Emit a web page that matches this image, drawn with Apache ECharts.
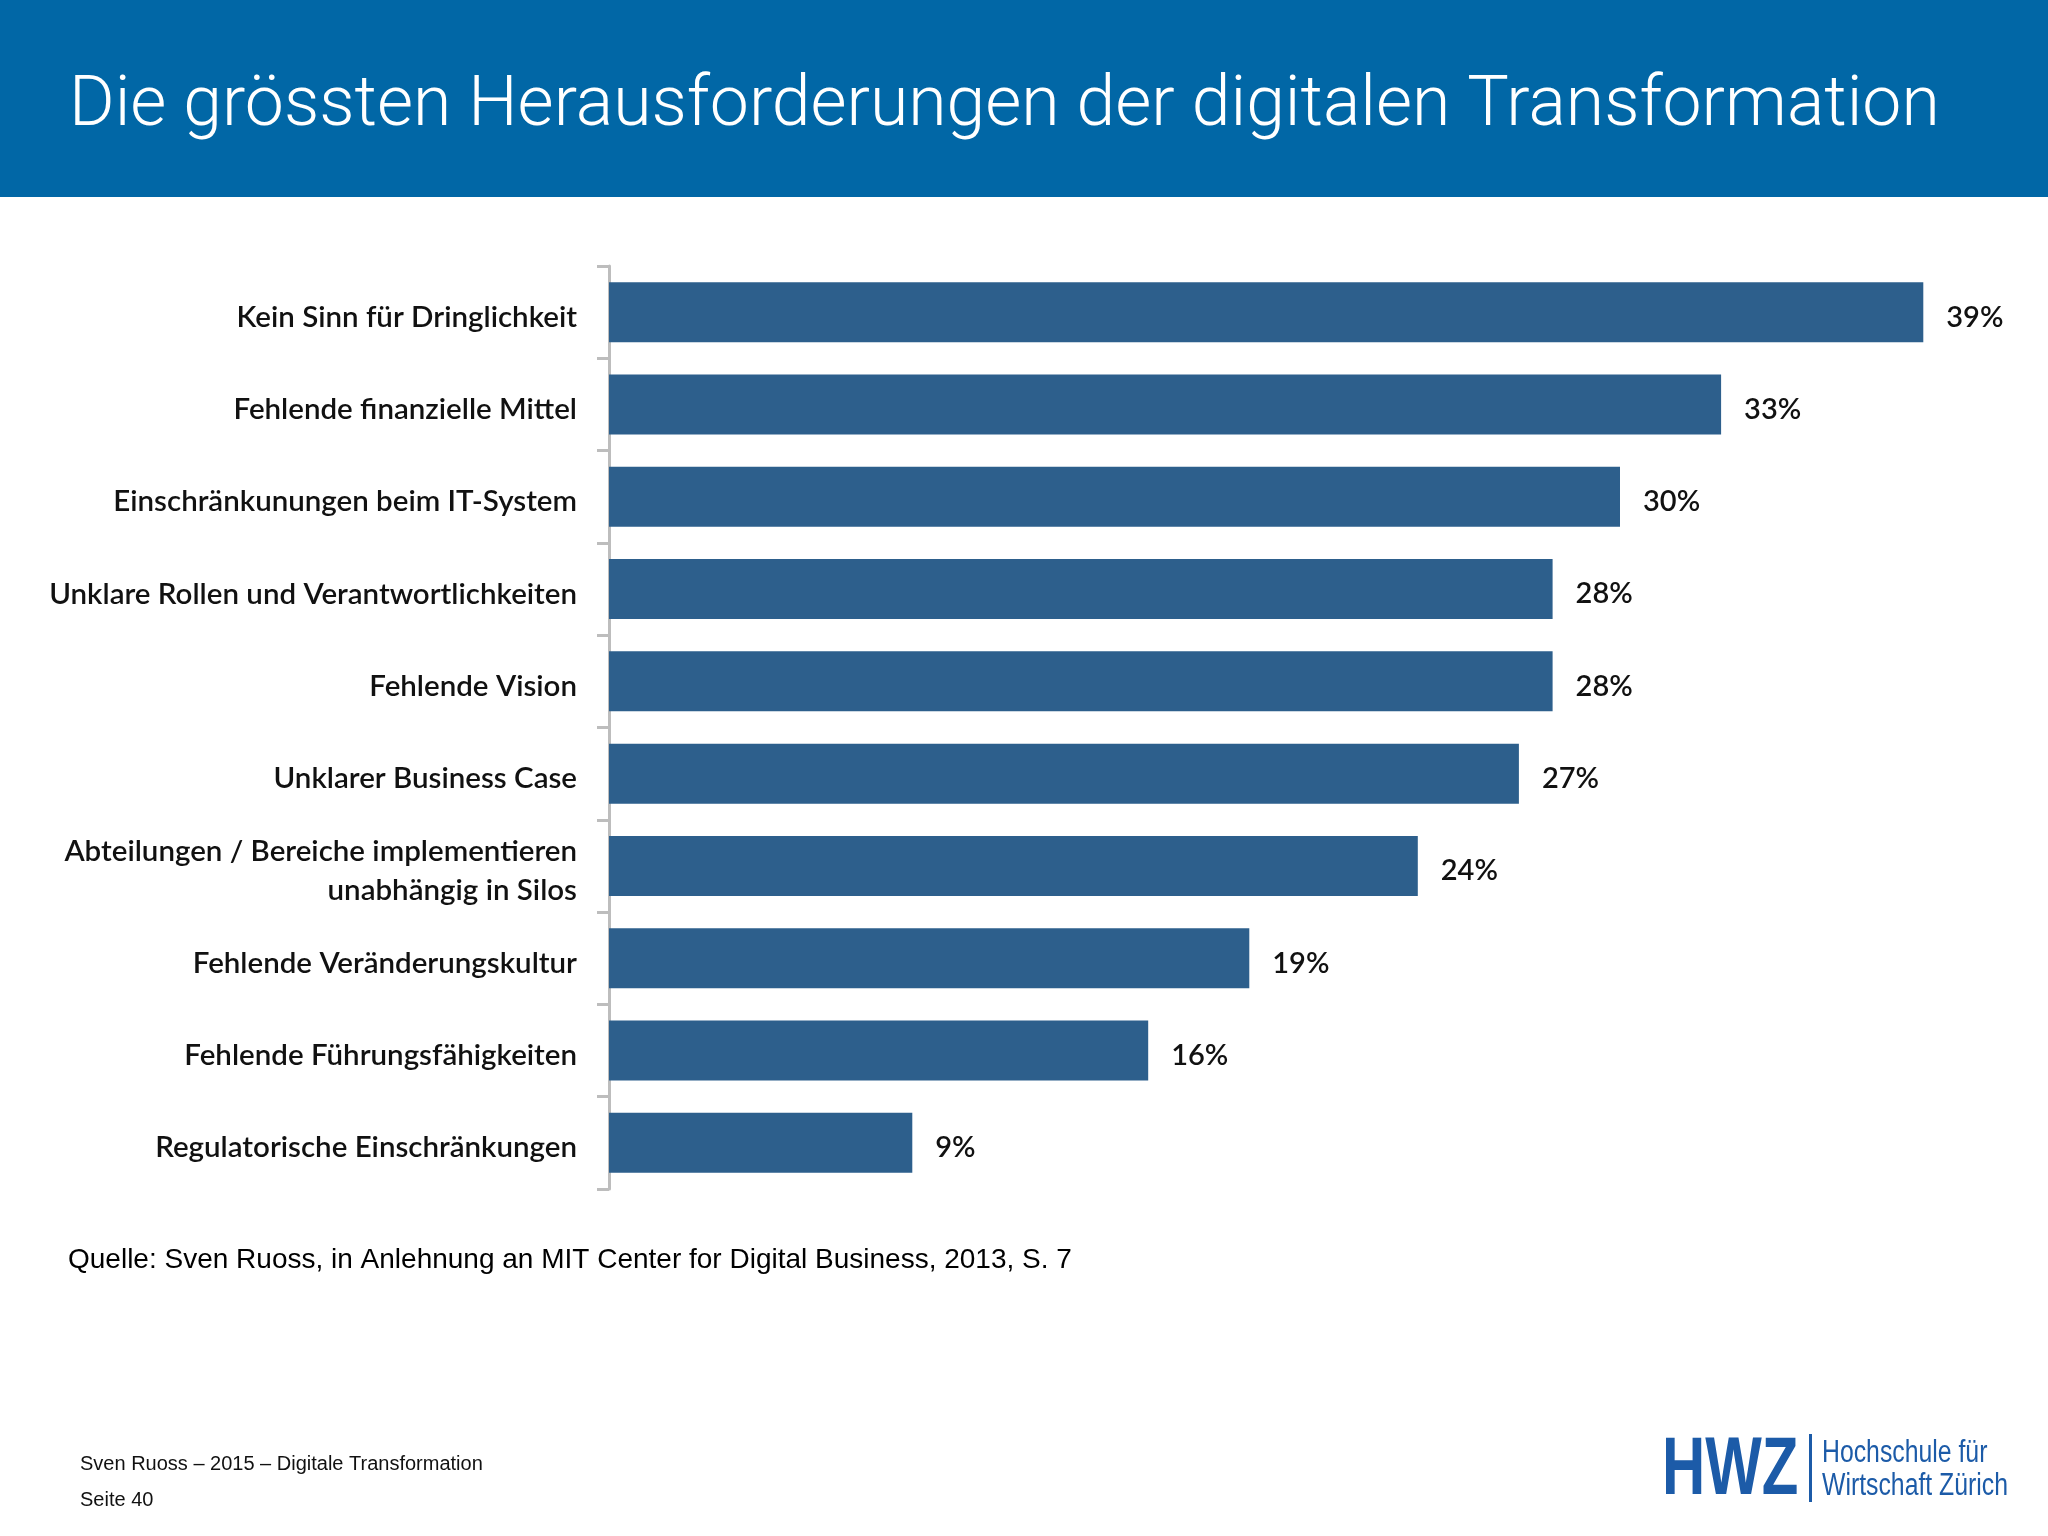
<!DOCTYPE html>
<html>
<head>
<meta charset="utf-8">
<script src="https://cdn.jsdelivr.net/npm/echarts@6/dist/echarts.min.js"></script>
<style>
html,body{margin:0;padding:0;background:#fff;}
#chart{width:2048px;height:1536px;}
</style>
</head>
<body>
<div id="chart"></div>
<script>
const titleText = 'Die grössten Herausforderungen der digitalen Transformation';
const categories = [
  'Kein Sinn für Dringlichkeit',
  'Fehlende finanzielle Mittel',
  'Einschränkunungen beim IT-System',
  'Unklare Rollen und Verantwortlichkeiten',
  'Fehlende Vision',
  'Unklarer Business Case',
  'Abteilungen / Bereiche implementieren\nunabhängig in Silos',
  'Fehlende Veränderungskultur',
  'Fehlende Führungsfähigkeiten',
  'Regulatorische Einschränkungen'
];
const values = [39, 33, 30, 28, 28, 27, 24, 19, 16, 9];
const sourceText = 'Quelle: Sven Ruoss, in Anlehnung an MIT Center for Digital Business, 2013, S. 7';
const footerLine1 = 'Sven Ruoss – 2015 – Digitale Transformation';
const footerLine2 = 'Seite 40';
const logoMain = 'HWZ';
const logoLine1 = 'Hochschule für';
const logoLine2 = 'Wirtschaft Zürich';

const chart = echarts.init(document.getElementById('chart'), null, {renderer: 'canvas'});
const labelFont = 'Lato, "Open Sans", sans-serif';
const logoColor = '#1c5ba8';
chart.setOption({
  backgroundColor: '#ffffff',
  animation: false,
  grid: {left: 609, top: 266, width: 1348, height: 923, containLabel: false, outerBoundsMode: 'none'},
  xAxis: {type: 'value', min: 0, max: 40, show: false, splitLine: {show: false}},
  yAxis: {
    type: 'category',
    data: categories,
    inverse: true,
    axisLine: {show: true, lineStyle: {color: '#bdbdbd', width: 3}},
    axisTick: {show: true, alignWithLabel: false, interval: 0, length: 12, lineStyle: {color: '#bdbdbd', width: 3}},
    axisLabel: {
      margin: 32, fontFamily: labelFont, fontWeight: 600, fontSize: 29.5, color: '#111111',
      lineHeight: 39, align: 'right', interval: 0,
      formatter: function (v) { return v.split('\n').map(function (s) { return '{l|' + s + '}'; }).join('\n'); },
      rich: {l: {fontFamily: labelFont, fontWeight: 600, fontSize: 29.5, color: '#111111', lineHeight: 39, padding: [10, 0, 0, 0]}}
    }
  },
  series: [{
    type: 'bar',
    data: values,
    barCategoryGap: '35%',
    itemStyle: {color: '#2d5f8c'},
    label: {show: true, position: 'right', distance: 23, offset: [0, 5], formatter: '{c}%', fontFamily: labelFont, fontWeight: 600, fontSize: 29, color: '#111111'}
  }],
  graphic: [
    {type: 'rect', left: 0, top: 0, shape: {width: 2048, height: 197}, style: {fill: '#0167a6'}, z: 0},
    {type: 'text', x: 69, y: 108, style: {text: titleText, fill: '#ffffff', font: '300 69.7px Roboto, "Liberation Sans", sans-serif', textVerticalAlign: 'middle'}, z: 1},
    {type: 'text', x: 68, y: 1260, style: {text: sourceText, fill: '#000000', font: '28px "Liberation Sans", Arial, sans-serif', textVerticalAlign: 'middle'}},
    {type: 'text', x: 80, y: 1464, style: {text: footerLine1, fill: '#111111', font: '20px "Liberation Sans", Arial, sans-serif', textVerticalAlign: 'middle'}},
    {type: 'text', x: 80, y: 1500, style: {text: footerLine2, fill: '#111111', font: '20px "Liberation Sans", Arial, sans-serif', textVerticalAlign: 'middle'}},
    {type: 'text', x: 1662, y: 1471, scaleX: 0.73, style: {text: logoMain, fill: logoColor, font: 'bold 82px "Liberation Sans", sans-serif', textVerticalAlign: 'middle'}},
    {type: 'rect', left: 1809, top: 1434, shape: {width: 3, height: 68}, style: {fill: logoColor}},
    {type: 'text', x: 1822, y: 1453, scaleX: 0.8, style: {text: logoLine1, fill: logoColor, font: '31px "Liberation Sans", sans-serif', textVerticalAlign: 'middle'}},
    {type: 'text', x: 1822, y: 1486, scaleX: 0.8, style: {text: logoLine2, fill: logoColor, font: '31px "Liberation Sans", sans-serif', textVerticalAlign: 'middle'}}
  ]
});
</script>
</body>
</html>
